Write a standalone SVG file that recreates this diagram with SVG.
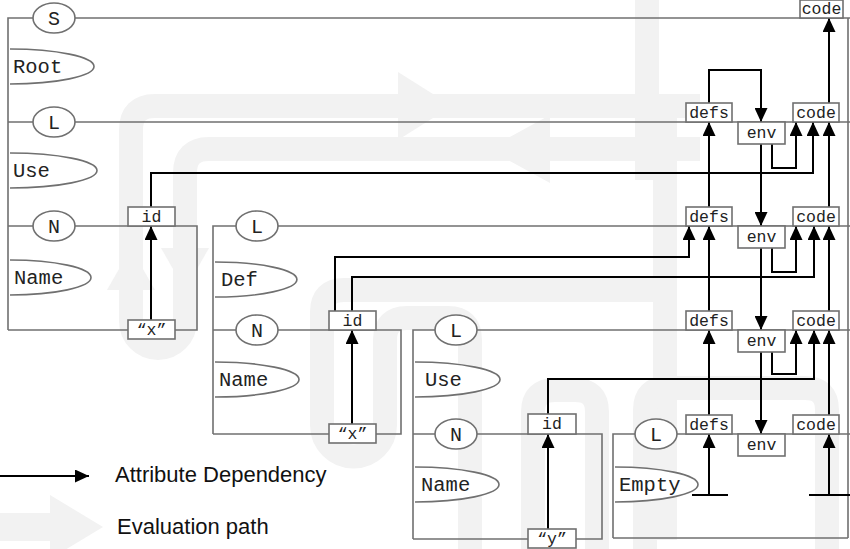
<svg xmlns="http://www.w3.org/2000/svg" width="850" height="549" viewBox="0 0 850 549">
<style>
.wm{fill:none;stroke:#f2f2f2;stroke-width:24;stroke-linejoin:round}
.wmf{fill:#f2f2f2;stroke:none}
.tree{fill:none;stroke:#707070;stroke-width:1.6}
.node{fill:#fff;stroke:#707070;stroke-width:1.6}
.half{fill:#fff;stroke:#707070;stroke-width:1.6}
.box{fill:#fff;stroke:#707070;stroke-width:1.6}
.dep{fill:none;stroke:#000;stroke-width:2;marker-end:url(#ah)}
.bar{fill:none;stroke:#000;stroke-width:2}
.nt{font-family:"Liberation Mono","Courier New",monospace;font-size:20px;fill:#222;text-anchor:middle}
.lt{font-family:"Liberation Mono","Courier New",monospace;font-size:20.5px;fill:#222}
.bt{font-family:"Liberation Mono","Courier New",monospace;font-size:16.5px;fill:#222;text-anchor:middle}
.leg{font-family:"Liberation Sans",Arial,sans-serif;font-size:22px;fill:#111}
</style>
<defs>
<marker id="ah" markerUnits="userSpaceOnUse" markerWidth="14" markerHeight="13" viewBox="0 0 14 13" refX="14" refY="6.5" orient="auto">
<path d="M0,0 L14,6.5 L0,13 Z" fill="#000"/>
</marker>
</defs>
<rect width="850" height="549" fill="#fff"/>
<g id="evaluation-path">
<path class="wm" d="M131,321 V130 Q131,106 155,106 H700"/>
<path class="wm" d="M700,149 H209 Q185,149 185,173 V321"/>
<path class="wm" d="M185,321 A27,27 0 0 1 131,321"/>
<path class="wm" d="M647,0 V180"/>
<path class="wm" d="M665,106 V540"/>
<path class="wm" d="M322,425 V312 Q322,290 344,290 H665"/>
<path class="wm" d="M385,425 A31.5,31.5 0 0 1 322,425"/>
<path class="wm" d="M385,425 V340 Q385,318 407,318 H448 Q470,318 470,340 V549"/>
<path class="wm" d="M533,549 V412 Q533,390 555,390 H575 Q597,390 597,412 V549"/>
<path class="wm" d="M645,549 V410 Q645,388 667,388 H805 Q827,388 827,410 V549"/>
<polygon class="wmf" points="398,72 452,106 398,140"/>
<polygon class="wmf" points="550,115 488,149 550,183"/>
<polygon class="wmf" points="107,290 131,248 155,290"/>
<polygon class="wmf" points="161,248 185,290 209,248"/>
</g>
<g id="tree-lines">
<path class="tree" d="M8,330 V18 H850 M848,18 V538 M8,122 H850"/>
<path class="tree" d="M8,226 H197 V330 H8"/>
<path class="tree" d="M213,434 V226 H850"/>
<path class="tree" d="M213,330 H401 V434 H213"/>
<path class="tree" d="M413,539 V330 H850"/>
<path class="tree" d="M413,434 H602 V539 H413"/>
<path class="tree" d="M613,538 V434 H850 M613,538 H848"/>
</g>
<g id="connectors">
<path class="dep" d="M151,320 V226"/>
<path class="dep" d="M151,207 V173 H813 V122"/>
<path class="dep" d="M352,424 V330"/>
<path class="dep" d="M335,311 V257 H689 V226"/>
<path class="dep" d="M352,311 V277 H814 V226"/>
<path class="dep" d="M548,529 V434"/>
<path class="dep" d="M548,414 V379 H814 V330"/>
<path class="dep" d="M709,495 V434"/>
<path class="dep" d="M709,415 V330"/>
<path class="dep" d="M709,311 V226"/>
<path class="dep" d="M709,207 V122"/>
<path class="dep" d="M709,103 V70 H761 V122"/>
<path class="dep" d="M761,144 V226"/>
<path class="dep" d="M761,248 V330"/>
<path class="dep" d="M761,352 V434"/>
<path class="dep" d="M772,144 V168 H796 V122"/>
<path class="dep" d="M772,248 V272 H796 V226"/>
<path class="dep" d="M772,352 V374 H796 V330"/>
<path class="dep" d="M829,495 V434"/>
<path class="dep" d="M829,415 V330"/>
<path class="dep" d="M829,311 V226"/>
<path class="dep" d="M829,207 V122"/>
<path class="dep" d="M829,103 V18"/>
<path class="bar" d="M692,495 H728 M809,495 H850"/>
</g>
<g id="S"><ellipse class="node" cx="54" cy="18" rx="21" ry="15"/><text class="nt" x="54" y="25">S</text></g>
<g id="Root"><path class="half" d="M10,49 A84,17.5 0 0 1 10,84"/><text class="lt" x="13" y="73">Root</text></g>
<g id="L1"><ellipse class="node" cx="54" cy="122" rx="21" ry="15"/><text class="nt" x="54" y="129">L</text></g>
<g id="Use1"><path class="half" d="M10,153 A87,17.5 0 0 1 10,188"/><text class="lt" x="13" y="177">Use</text></g>
<g id="N1"><ellipse class="node" cx="54" cy="226" rx="21" ry="15"/><text class="nt" x="54" y="233">N</text></g>
<g id="Name1"><path class="half" d="M10,260 A81,17.5 0 0 1 10,295"/><text class="lt" x="14" y="284">Name</text></g>
<g id="id1"><rect class="box" x="128" y="207" width="47" height="19"/><text class="bt" x="151.5" y="222">id</text></g>
<g id="x1"><rect class="box" x="128" y="320" width="47" height="19"/><text class="bt" x="151.5" y="335">“x”</text></g>
<g id="L2"><ellipse class="node" cx="257" cy="226" rx="21" ry="15"/><text class="nt" x="257" y="233">L</text></g>
<g id="Def"><path class="half" d="M215,262 A82,17.5 0 0 1 215,297"/><text class="lt" x="221" y="286">Def</text></g>
<g id="N2"><ellipse class="node" cx="257" cy="330" rx="21" ry="15"/><text class="nt" x="257" y="337">N</text></g>
<g id="Name2"><path class="half" d="M215,362 A84,17.5 0 0 1 215,397"/><text class="lt" x="219" y="386">Name</text></g>
<g id="id2"><rect class="box" x="329" y="311" width="47" height="19"/><text class="bt" x="352.5" y="326">id</text></g>
<g id="x2"><rect class="box" x="329" y="424" width="47" height="19"/><text class="bt" x="352.5" y="439">“x”</text></g>
<g id="L3"><ellipse class="node" cx="456" cy="330" rx="21" ry="15"/><text class="nt" x="456" y="337">L</text></g>
<g id="Use3"><path class="half" d="M415,362 A85,17.5 0 0 1 415,397"/><text class="lt" x="425" y="386">Use</text></g>
<g id="N3"><ellipse class="node" cx="456" cy="434" rx="21" ry="15"/><text class="nt" x="456" y="441">N</text></g>
<g id="Name3"><path class="half" d="M415,467 A84,17.5 0 0 1 415,502"/><text class="lt" x="421" y="491">Name</text></g>
<g id="id3"><rect class="box" x="528" y="414" width="48" height="20"/><text class="bt" x="552" y="429">id</text></g>
<g id="y3"><rect class="box" x="528" y="529" width="48" height="19"/><text class="bt" x="552" y="544">“y”</text></g>
<g id="L4"><ellipse class="node" cx="656" cy="434" rx="21" ry="15"/><text class="nt" x="656" y="441">L</text></g>
<g id="Empty"><path class="half" d="M615,467 A83,17.5 0 0 1 615,502"/><text class="lt" x="619" y="491">Empty</text></g>
<g id="attr-code0"><rect class="box" x="800" y="0" width="43" height="18"/><text class="bt" x="821.5" y="14">code</text></g>
<g id="attr-level1">
<rect class="box" x="686" y="103" width="46" height="19"/><text class="bt" x="709" y="118">defs</text>
<rect class="box" x="738" y="122" width="47" height="22"/><text class="bt" x="761.5" y="138">env</text>
<rect class="box" x="793" y="103" width="46" height="19"/><text class="bt" x="816" y="118">code</text>
</g>
<g id="attr-level2">
<rect class="box" x="686" y="207" width="46" height="19"/><text class="bt" x="709" y="222">defs</text>
<rect class="box" x="738" y="226" width="47" height="22"/><text class="bt" x="761.5" y="242">env</text>
<rect class="box" x="793" y="207" width="46" height="19"/><text class="bt" x="816" y="222">code</text>
</g>
<g id="attr-level3">
<rect class="box" x="686" y="311" width="46" height="19"/><text class="bt" x="709" y="326">defs</text>
<rect class="box" x="738" y="330" width="47" height="22"/><text class="bt" x="761.5" y="346">env</text>
<rect class="box" x="793" y="311" width="46" height="19"/><text class="bt" x="816" y="326">code</text>
</g>
<g id="attr-level4">
<rect class="box" x="686" y="415" width="46" height="19"/><text class="bt" x="709" y="430">defs</text>
<rect class="box" x="738" y="434" width="47" height="22"/><text class="bt" x="761.5" y="450">env</text>
<rect class="box" x="793" y="415" width="46" height="19"/><text class="bt" x="816" y="430">code</text>
</g>
<g id="legend">
<path class="dep" d="M0,476 H89"/>
<text class="leg" x="115" y="482">Attribute Dependency</text>
<polygon class="wmf" points="0,513 50,513 50,495 103,527 50,559 50,541 0,541"/>
<text class="leg" x="117" y="534">Evaluation path</text>
</g>
</svg>
